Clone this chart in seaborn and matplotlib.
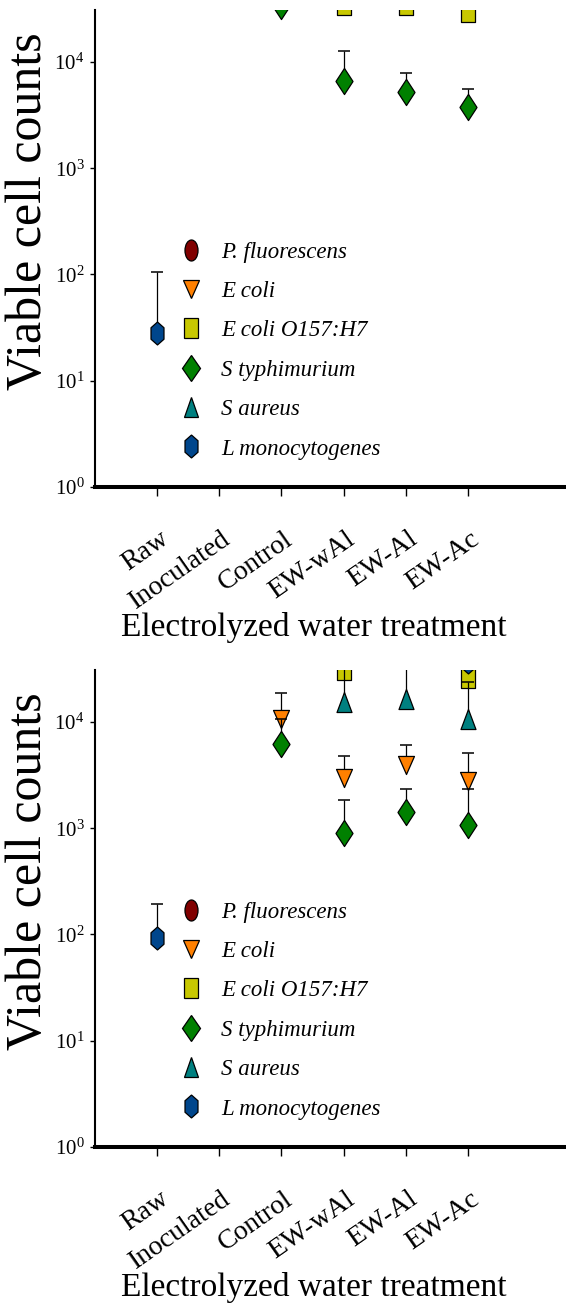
import numpy as np
import pandas as pd
import matplotlib
matplotlib.use("Agg")
import matplotlib.pyplot as plt
import seaborn as sns
from matplotlib.markers import MarkerStyle
from matplotlib.transforms import Affine2D, ScaledTranslation
from matplotlib.lines import Line2D
from matplotlib.ticker import LogLocator, NullLocator

# ---------------- data ----------------
categories = ["Raw", "Inoculated", "Control", "EW-wAl", "EW-Al", "EW-Ac"]
species = ["P. fluorescens", "E coli", "E coli O157:H7", "S typhimurium",
           "S aureus", "L monocytogenes"]
colors = ["#800000", "#FF8000", "#C8C800", "#008000", "#008080", "#00468C"]

# panel 1 (top)
a_treatment = ["Raw", "Control", "EW-wAl", "EW-Al", "EW-Ac",
               "EW-wAl", "EW-Al", "EW-Ac"]
a_species = ["L monocytogenes", "S typhimurium", "S typhimurium", "S typhimurium",
             "S typhimurium", "E coli O157:H7", "E coli O157:H7", "E coli O157:H7"]
a_count = [28, 33300, 6550, 5260, 3770, 34400, 34400, 29500]
a_upper = [106, np.nan, 12800, 7900, 5570, np.nan, np.nan, np.nan]

# panel 2 (bottom)
b_treatment = ["Raw", "Control", "Control",
               "EW-wAl", "EW-wAl", "EW-wAl", "EW-wAl",
               "EW-Al", "EW-Al", "EW-Al",
               "EW-Ac", "EW-Ac", "EW-Ac", "EW-Ac", "EW-Ac"]
b_species = ["L monocytogenes", "E coli", "S typhimurium",
             "E coli O157:H7", "S aureus", "E coli", "S typhimurium",
             "S aureus", "E coli", "S typhimurium",
             "E coli O157:H7", "S aureus", "E coli", "S typhimurium", "L monocytogenes"]
b_count = [92, 10700, 6200,
           30900, 15400, 3000, 910,
           16500, 3900, 1420,
           25900, 10700, 2790, 1070, 36300]
b_upper = [194, 18700, 10700,
           np.nan, 45000, 4800, 1830,
           45000, 6050, 2340,
           np.nan, 23800, 5100, 2340, np.nan]

# ---------------- style ----------------
sns.set_theme(style="white")
plt.rcParams["font.family"] = ["Liberation Serif", "DejaVu Serif"]
plt.rcParams["mathtext.default"] = "regular"
for key in ["text.color", "axes.labelcolor", "xtick.color", "ytick.color",
            "xtick.labelcolor", "ytick.labelcolor"]:
    plt.rcParams[key] = "black"

marker_base = ["o", "v", "s", "D", "^", "h"]
marker_scale = [(0.67, 1.08), (0.82, 0.93), (0.67, 1.03), (0.62, 0.95),
                (0.77, 1.03), (0.77, 1.18)]
markers = [MarkerStyle(m, transform=Affine2D().scale(sx, sy))
           for m, (sx, sy) in zip(marker_base, marker_scale)]
MS = 14

fig = plt.figure(figsize=(5.66, 13.15), dpi=100)
W, H = 566, 1315
ax_top = fig.add_axes([95 / W, (H - 487) / H, 471 / W, 477 / H])
ax_bot = fig.add_axes([95 / W, (H - 1147) / H, 471 / W, 477 / H])


def make_df(treat, sp, cnt, up):
    df = pd.DataFrame({"treatment": treat, "species": sp, "count": cnt, "upper": up})
    df["x"] = [categories.index(t) for t in df["treatment"]]
    return df


def draw_panel(ax, df):
    ax.set_yscale("log")
    for i, sp in enumerate(species):
        sub = df[df["species"] == sp]
        if sub.empty:
            continue
        err = sub.dropna(subset=["upper"])
        if len(err):
            eb = ax.errorbar(err["x"], err["count"],
                             yerr=[np.zeros(len(err)), err["upper"] - err["count"]],
                             fmt="none", ecolor="black", elinewidth=0.9,
                             capsize=4.5, capthick=1.1, zorder=2 + 2 * i)
            eb[1][0].set_visible(False)
        sns.scatterplot(data=sub, x="x", y="count", ax=ax, color=colors[i],
                        marker=markers[i], s=MS ** 2, edgecolor="black",
                        linewidth=0.9, zorder=3 + 2 * i, legend=False)

    ax.set_xlim(-0.997, 6.576)
    ax.set_ylim(1, 10 ** 4.489)
    ax.yaxis.set_major_locator(LogLocator(base=10, numticks=10))
    ax.yaxis.set_minor_locator(NullLocator())
    ax.set_xticks(range(len(categories)))
    ax.tick_params(axis="x", direction="out", length=6.5, width=1,
                   color="black", pad=22, bottom=True, labelsize=20)
    ax.tick_params(axis="y", direction="out", length=3.6, width=1,
                   color="black", pad=4, labelsize=15, left=True)
    ax.set_xticklabels(categories, rotation=35, ha="right", va="top",
                       fontsize=20)
    off = ScaledTranslation(16 / 100, 0, fig.dpi_scale_trans)
    for lab in ax.get_xticklabels():
        lab.set_transform(lab.get_transform() + off)
    for side in ["top", "right"]:
        ax.spines[side].set_visible(False)
    ax.spines["left"].set_linewidth(1.5)
    ax.spines["left"].set_color("black")
    ax.spines["bottom"].set_linewidth(2.9)
    ax.spines["bottom"].set_color("black")
    ax.grid(False)

    ax.set_ylabel("Viable cell counts", fontsize=36, color="black")
    ax.yaxis.set_label_coords(-0.091, 0.579)
    ax.set_xlabel("Electrolyzed water treatment", fontsize=24, color="black")
    ax.xaxis.set_label_coords(0.465, -0.262)

    handles = [Line2D([], [], linestyle="none", marker=markers[i], markersize=MS,
                      markerfacecolor=colors[i], markeredgecolor="black",
                      markeredgewidth=0.9) for i in range(len(species))]
    ax.legend(handles, species, loc="upper left", bbox_to_anchor=(0.18, 0.5145),
              frameon=False,
              prop={"family": "Liberation Serif", "style": "italic", "size": 16.5},
              handlelength=1.0, handletextpad=0.8, labelspacing=0.8,
              borderpad=0, borderaxespad=0)


draw_panel(ax_top, make_df(a_treatment, a_species, a_count, a_upper))
draw_panel(ax_bot, make_df(b_treatment, b_species, b_count, b_upper))

fig.savefig("out.png", dpi=100)
